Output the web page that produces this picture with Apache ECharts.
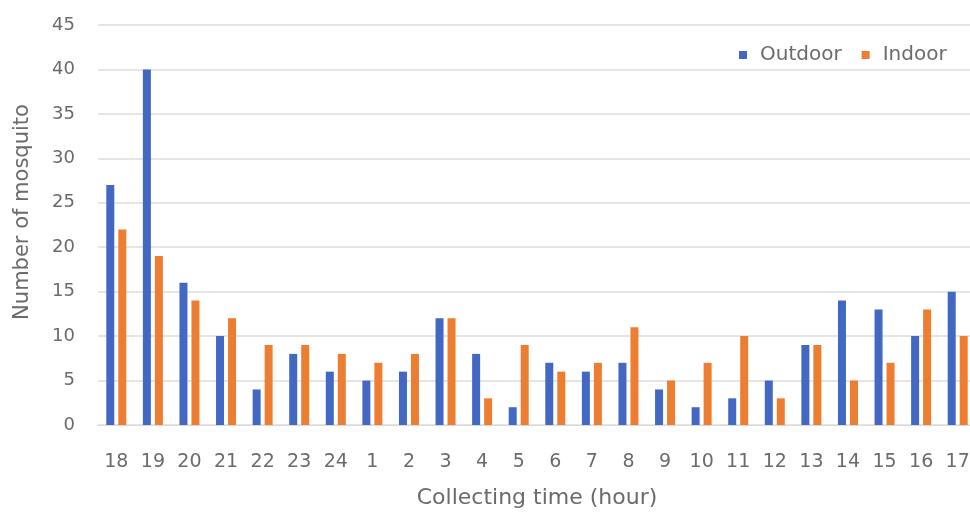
<!DOCTYPE html>
<html>
<head>
<meta charset="utf-8">
<script src="https://cdn.jsdelivr.net/npm/echarts@6/dist/echarts.min.js"></script>
<style>
  html, body { margin: 0; padding: 0; background: #ffffff; }
  #chart { width: 970px; height: 516px; }
</style>
</head>
<body>
<div id="chart"></div>
<script>
// Collection hours, starting at 18:00 and running through to 17:00
const hours = ['18', '19', '20', '21', '22', '23', '24', '1', '2', '3', '4', '5',
               '6', '7', '8', '9', '10', '11', '12', '13', '14', '15', '16', '17'];
// Mosquitoes caught per hour
const outdoor = [27, 40, 16, 10, 4, 8, 6, 5, 6, 12, 8, 2, 7, 6, 7, 4, 2, 3, 5, 9, 14, 13, 10, 15];
const indoor  = [22, 19, 14, 12, 9, 9, 8, 7, 8, 12, 3, 9, 6, 7, 11, 5, 7, 10, 3, 9, 5, 7, 13, 10];
const seriesNames = ['Outdoor', 'Indoor'];

const font = '"DejaVu Sans", sans-serif';
const textGrey = '#6b6b6b';
const chart = echarts.init(document.getElementById('chart'));
chart.setOption({
  animation: false,
  textStyle: { fontFamily: font },
  legend: {
    data: seriesNames,
    top: 40,
    left: 734,
    itemWidth: 8,
    itemHeight: 8,
    itemGap: 20,
    icon: 'rect',
    textStyle: { fontFamily: font, fontSize: 20, color: textGrey, padding: [0, 0, 0, 8] }
  },
  grid: {
    left: 98, top: 25, width: 878, height: 400,
    containLabel: false,
    outerBoundsMode: 'none'
  },
  xAxis: {
    type: 'category',
    data: hours,
    name: 'Collecting time (hour)',
    nameLocation: 'middle',
    nameGap: 62,
    nameTextStyle: { fontFamily: font, fontSize: 22, color: textGrey },
    axisLine: { lineStyle: { color: '#d9d9d9' } },
    axisTick: { show: false },
    axisLabel: { fontFamily: font, fontSize: 19, color: textGrey, margin: 28 }
  },
  yAxis: {
    type: 'value',
    min: 0,
    max: 45,
    interval: 5,
    name: 'Number of mosquito',
    nameLocation: 'middle',
    nameGap: 65,
    nameTextStyle: { fontFamily: font, fontSize: 21, color: textGrey, padding: [0, 0, 0, 26] },
    axisLine: { show: false },
    axisTick: { show: false },
    axisLabel: { fontFamily: font, fontSize: 18, color: textGrey, margin: 23 },
    splitLine: { lineStyle: { color: '#dcdcdc', width: 1.5 } }
  },
  series: [
    {
      name: seriesNames[0],
      type: 'bar',
      data: outdoor,
      barWidth: 8,
      barGap: '50%',
      itemStyle: { color: '#4268C4' }
    },
    {
      name: seriesNames[1],
      type: 'bar',
      data: indoor,
      barWidth: 8,
      itemStyle: { color: '#ED7D31' }
    }
  ]
});
</script>
</body>
</html>
